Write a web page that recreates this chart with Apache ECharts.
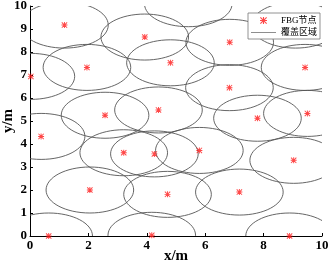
<!DOCTYPE html>
<html>
<head>
<meta charset="utf-8">
<script src="https://cdn.jsdelivr.net/npm/echarts@6/dist/echarts.min.js"></script>
<style>html,body{margin:0;padding:0;background:#fff;}#c{width:329px;height:265px;}</style>
</head>
<body>
<div id="c"></div>
<script>
// FBG node positions (m)
const nodeX = [1.18, 3.93, 5.42, 6.84, 9.09, 0.03, 1.95, 4.81, 6.83, 9.42, 2.57, 4.40, 7.79, 9.50, 0.38, 3.21, 4.26, 5.80, 9.03, 2.05, 4.71, 7.17, 0.64, 4.17, 8.89];
const nodeY = [9.17, 8.65, 10.1, 8.42, 9.17, 6.94, 7.33, 7.53, 6.45, 7.33, 5.25, 5.48, 5.12, 5.33, 4.33, 3.62, 3.57, 3.72, 3.29, 2.00, 1.81, 1.91, 0.00, 0.03, 0.00];
// coverage radii (data units along x and y)
const coverRX = 1.5;
const coverRY = 1.0;
const xTicks = [0, 2, 4, 6, 8, 10];
const yTicks = [0, 1, 2, 3, 4, 5, 6, 7, 8, 9, 10];
const seriesNames = ['FBG节点', '覆盖区域'];

const pts = nodeX.map((x, i) => [x, nodeY[i]]);
const STAR = 'path://M4.2,0L5.8,0L5.8,10L4.2,10Z M0,4.2L10,4.2L10,5.8L0,5.8Z M1.1,0L10,8.9L8.9,10L0,1.1Z M10,1.1L1.1,10L0,8.9L8.9,0Z';
const LINE = 'path://M0,0L30,0L30,1L0,1Z';
const serif = "'Liberation Serif','Times New Roman',serif";

const chart = echarts.init(document.getElementById('c'), null, {renderer: 'canvas'});
chart.setOption({
  animation: false,
  backgroundColor: '#fff',
  grid: {left: 30, right: 7, top: 6, bottom: 29, containLabel: false, outerBoundsMode: 'none'},
  xAxis: {
    type: 'value', min: xTicks[0], max: xTicks[xTicks.length - 1], interval: 2,
    name: 'x/m', nameLocation: 'middle', nameGap: 13, nameMoveOverlap: false,
    nameTextStyle: {fontFamily: serif, fontWeight: 'bold', fontSize: 15, color: '#000'},
    axisLine: {lineStyle: {color: '#000', width: 1}},
    axisTick: {inside: true, length: 3, lineStyle: {color: '#000'}},
    axisLabel: {fontFamily: serif, fontWeight: 'bold', fontSize: 13, color: '#000', margin: 3},
    splitLine: {show: false}
  },
  yAxis: {
    type: 'value', min: yTicks[0], max: yTicks[yTicks.length - 1], interval: 1,
    name: 'y/m', nameLocation: 'middle', nameGap: 14, nameRotate: 90, nameMoveOverlap: false,
    nameTextStyle: {fontFamily: serif, fontWeight: 'bold', fontSize: 15, color: '#000'},
    axisLine: {lineStyle: {color: '#000', width: 1}},
    axisTick: {inside: true, length: 3, lineStyle: {color: '#000'}},
    axisLabel: {fontFamily: serif, fontWeight: 'bold', fontSize: 13, color: '#000', margin: 3},
    splitLine: {show: false}
  },
  legend: {
    orient: 'vertical', left: 248, top: 13,
    padding: [3, 3, 2, 3], itemGap: 3, itemWidth: 25, itemHeight: 7,
    backgroundColor: '#fff', borderColor: '#777', borderWidth: 0.8,
    textStyle: {fontFamily: serif + ",'Noto Sans CJK SC'", fontSize: 9, color: '#000'},
    data: [
      {name: seriesNames[0], icon: STAR, itemStyle: {color: '#ff1a1a'}},
      {name: seriesNames[1], icon: LINE, itemStyle: {color: '#777'}}
    ]
  },
  series: [
    {
      name: seriesNames[1], type: 'custom', clip: true, z: 1,
      data: pts,
      itemStyle: {color: '#777'},
      renderItem: function (params, api) {
        const c = api.coord([api.value(0), api.value(1)]);
        const s = api.size([coverRX, coverRY]);
        return {
          type: 'ellipse',
          shape: {cx: c[0], cy: c[1], rx: s[0], ry: s[1]},
          style: {fill: 'none', stroke: '#555', lineWidth: 0.9}
        };
      }
    },
    {
      name: seriesNames[0], type: 'scatter', clip: true, z: 3,
      data: pts, symbol: STAR, symbolSize: 6,
      itemStyle: {color: '#ff1a1a'}
    }
  ]
});
</script>
</body>
</html>
